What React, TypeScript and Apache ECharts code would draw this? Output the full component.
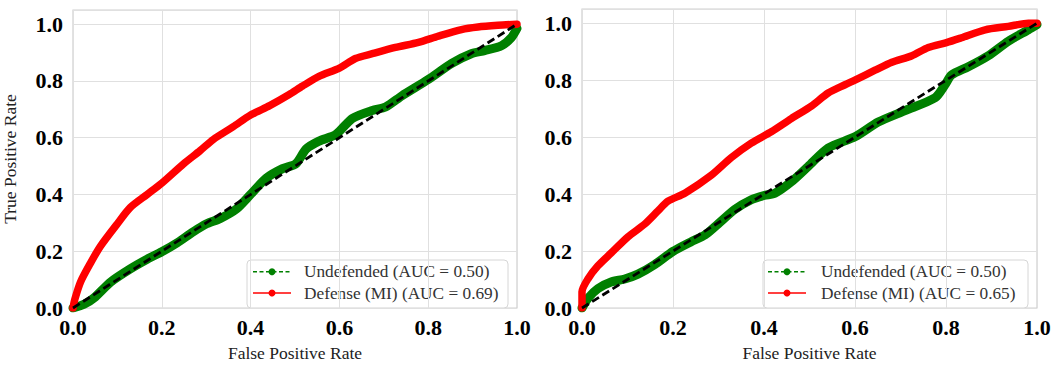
import React, { useEffect, useRef } from "react";
import * as echarts from "echarts";

// ---------- data ----------
const xTicks = [0, 0.2, 0.4, 0.6, 0.8, 1.0];

const chanceFpr = [0, 1];
const chanceTpr = [0, 1];

// Left panel
const leftUndefFpr = [0, 0.025, 0.047, 0.085, 0.129, 0.167, 0.2, 0.234, 0.271, 0.301, 0.331, 0.368, 0.4, 0.435, 0.472, 0.502, 0.525, 0.554, 0.592, 0.629, 0.674, 0.704, 0.741, 0.8, 0.853, 0.897, 0.927, 0.965, 0.987, 1.0];
const leftUndefTpr = [0, 0.013, 0.035, 0.092, 0.138, 0.172, 0.198, 0.229, 0.269, 0.297, 0.315, 0.349, 0.4, 0.457, 0.491, 0.508, 0.56, 0.588, 0.611, 0.668, 0.696, 0.708, 0.748, 0.805, 0.862, 0.896, 0.907, 0.924, 0.952, 0.985];
const leftDefFpr = [0, 0.004, 0.017, 0.04, 0.062, 0.1, 0.129, 0.167, 0.2, 0.249, 0.286, 0.316, 0.361, 0.4, 0.443, 0.487, 0.517, 0.554, 0.6, 0.636, 0.674, 0.726, 0.778, 0.823, 0.875, 0.912, 0.957, 1.0];
const leftDefTpr = [0, 0.03, 0.092, 0.16, 0.218, 0.297, 0.354, 0.4, 0.44, 0.508, 0.554, 0.594, 0.639, 0.68, 0.713, 0.752, 0.782, 0.816, 0.845, 0.879, 0.896, 0.918, 0.936, 0.958, 0.981, 0.99, 0.996, 1.0];

// Right panel
const rightUndefFpr = [0, 0.013, 0.035, 0.064, 0.094, 0.123, 0.16, 0.2, 0.24, 0.27, 0.299, 0.336, 0.372, 0.4, 0.424, 0.46, 0.497, 0.541, 0.601, 0.651, 0.71, 0.776, 0.798, 0.812, 0.849, 0.893, 0.937, 0.981, 1.0];
const rightUndefTpr = [0, 0.034, 0.068, 0.091, 0.102, 0.119, 0.153, 0.199, 0.233, 0.256, 0.295, 0.346, 0.38, 0.395, 0.403, 0.443, 0.497, 0.562, 0.602, 0.653, 0.693, 0.738, 0.784, 0.818, 0.847, 0.886, 0.937, 0.977, 0.995];
const rightDefFpr = [0, 0, 0.013, 0.035, 0.064, 0.101, 0.138, 0.167, 0.189, 0.226, 0.284, 0.328, 0.372, 0.416, 0.46, 0.505, 0.541, 0.578, 0.601, 0.644, 0.681, 0.725, 0.761, 0.801, 0.834, 0.886, 0.937, 0.981, 1.0];
const rightDefTpr = [0, 0.057, 0.102, 0.148, 0.193, 0.25, 0.295, 0.341, 0.375, 0.403, 0.466, 0.528, 0.579, 0.619, 0.665, 0.71, 0.755, 0.784, 0.801, 0.835, 0.863, 0.886, 0.915, 0.932, 0.949, 0.977, 0.989, 1.0, 1.0];

const legendUndefLeft = "Undefended (AUC = 0.50)";
const legendDefLeft = "Defense (MI) (AUC = 0.69)";
const legendUndefRight = "Undefended (AUC = 0.50)";
const legendDefRight = "Defense (MI) (AUC = 0.65)";

const xTitle = "False Positive Rate";
const yTitle = "True Positive Rate";

// ---------- styling ----------
const SERIF = '"Liberation Serif", "Times New Roman", "DejaVu Serif", serif';
const GREEN = "#008000";
const RED = "#ff0000";

const zip = (xs: number[], ys: number[]) => xs.map((x, i) => [x, ys[i]]);

function makeXAxis(gridIndex: number) {
  return {
    type: "value",
    gridIndex,
    min: 0,
    max: 1,
    interval: 0.2,
    name: xTitle,
    nameLocation: "middle",
    nameGap: 36,
    nameTextStyle: { fontFamily: SERIF, fontSize: 17.5, color: "#222" },
    axisLine: { show: false },
    axisTick: { show: false },
    axisLabel: {
      margin: 8,
      fontFamily: SERIF,
      fontWeight: "bold",
      fontSize: 22,
      color: "#000",
      formatter: (v: number) => (xTicks.some((t) => Math.abs(t - v) < 1e-6) ? v.toFixed(1) : ""),
    },
    splitLine: { show: true, lineStyle: { color: "#e0e0e0", width: 1 } },
  };
}

function makeYAxis(gridIndex: number, withName: boolean) {
  return {
    type: "value",
    gridIndex,
    min: 0,
    max: 1.05,
    interval: 0.2,
    name: withName ? yTitle : "",
    nameLocation: "middle",
    nameGap: 54,
    nameRotate: 90,
    nameTextStyle: { fontFamily: SERIF, fontSize: 17.5, color: "#222" },
    axisLine: { show: false },
    axisTick: { show: false },
    axisLabel: {
      margin: 10,
      fontFamily: SERIF,
      fontWeight: "bold",
      fontSize: 22,
      color: "#000",
      formatter: (v: number) => (v > 1.0001 ? "" : v.toFixed(1)),
    },
    splitLine: { show: true, lineStyle: { color: "#e0e0e0", width: 1 } },
  };
}

function curve(idx: number, xs: number[], ys: number[], color: string, width: number, z: number) {
  return {
    type: "line",
    xAxisIndex: idx,
    yAxisIndex: idx,
    data: zip(xs, ys),
    symbol: "none",
    smooth: 0.25,
    z,
    lineStyle: { color, width, cap: "round", join: "round" },
  };
}

function chance(idx: number) {
  return {
    type: "line",
    xAxisIndex: idx,
    yAxisIndex: idx,
    data: zip(chanceFpr, chanceTpr),
    symbol: "none",
    z: 5,
    lineStyle: { color: "#000", width: 2.8, type: [8, 4] },
  };
}

function legendGroup(x0: number, y0: number, w: number, lineX0: number, textX: number, l1: string, l2: string) {
  const r1 = 11.7;
  const r2 = 33;
  const lx1 = lineX0;
  const lx2 = lineX0 + 38;
  const mx = (lx1 + lx2) / 2;
  return {
    type: "group",
    x: x0,
    y: y0,
    z: 100,
    children: [
      {
        type: "rect",
        shape: { x: 0, y: 0, width: w, height: 48, r: 4 },
        style: { fill: "rgba(255,255,255,0.85)", stroke: "#d6d6d6", lineWidth: 1 },
      },
      {
        type: "line",
        shape: { x1: lx1, y1: r1, x2: lx2, y2: r1 },
        style: { stroke: GREEN, lineWidth: 1.5, lineDash: [4, 2.5] },
      },
      { type: "circle", shape: { cx: mx, cy: r1, r: 3.5 }, style: { fill: GREEN } },
      {
        type: "text",
        x: textX,
        y: r1,
        style: { text: l1, fontFamily: SERIF, fontSize: 17.3, fill: "#333", verticalAlign: "middle" },
      },
      {
        type: "line",
        shape: { x1: lx1, y1: r2, x2: lx2, y2: r2 },
        style: { stroke: RED, lineWidth: 1.5 },
      },
      { type: "circle", shape: { cx: mx, cy: r2, r: 3.5 }, style: { fill: RED } },
      {
        type: "text",
        x: textX,
        y: r2,
        style: { text: l2, fontFamily: SERIF, fontSize: 17.3, fill: "#333", verticalAlign: "middle" },
      },
    ],
  };
}

export default function App() {
  const ref = useRef<HTMLDivElement>(null);

  useEffect(() => {
    if (!ref.current) return;
    const chart = echarts.init(ref.current, undefined, { renderer: "svg" });
    const option = {
      animation: false,
      backgroundColor: "#ffffff",
      grid: [
        { left: 70, top: 10, width: 447, height: 307, show: true, borderColor: "#cfcfcf", borderWidth: 1.2, backgroundColor: "#fff" },
        { left: 582, top: 9, width: 455, height: 308, show: true, borderColor: "#cfcfcf", borderWidth: 1.2, backgroundColor: "#fff" },
      ],
      xAxis: [makeXAxis(0), makeXAxis(1)],
      yAxis: [makeYAxis(0, true), makeYAxis(1, false)],
      series: [
        curve(0, leftUndefFpr, leftUndefTpr, GREEN, 9, 2),
        curve(0, leftDefFpr, leftDefTpr, RED, 7.5, 3),
        chance(0),
        curve(1, rightUndefFpr, rightUndefTpr, GREEN, 9, 2),
        curve(1, rightDefFpr, rightDefTpr, RED, 7.5, 3),
        chance(1),
      ],
      graphic: [
        legendGroup(247, 260, 261, 6, 57, legendUndefLeft, legendDefLeft),
        legendGroup(763, 260, 265, 5, 58, legendUndefRight, legendDefRight),
      ],
    };
    chart.setOption(option as any);
    return () => chart.dispose();
  }, []);

  return (
    <div
      ref={ref}
      style={{ position: "fixed", left: 0, top: 0, width: 1054, height: 367, background: "#fff" }}
    />
  );
}
